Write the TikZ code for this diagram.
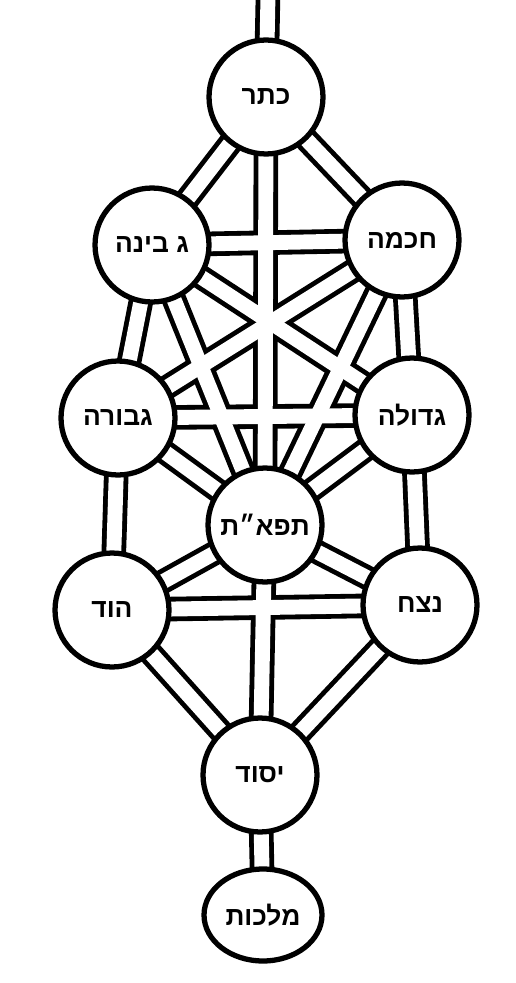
\documentclass[tikz,border=0pt]{standalone}
\usepackage{fontspec}
\newfontfamily\hebfont[Script=Hebrew]{Liberation Sans}
\TeXXeTstate=1
\usetikzlibrary{shapes.geometric,backgrounds}

\begin{document}
\begin{tikzpicture}[x=0.02cm,y=-0.02cm]
		\tikzstyle sefira=[circle,draw,line width=3pt,fill=white,minimum size=2.28cm,inner sep=0pt,font=\hebfont\bfseries\fontsize{15}{17}\selectfont];
		\tikzstyle outer_path=[line width=14pt,black];
		\tikzstyle inner_path=[line width=8.5pt,white];
		\useasboundingbox (0,0) rectangle (516,983);

		% SEFIROT
		\node[sefira] (keter) at (266,97) {\beginR כתר\endR};
		\node[sefira] (binah) at (152,245) {\beginR ג בינה\endR};
		\node[sefira] (chokhmah) at (402,240) {\beginR חכמה\endR};
		\node[sefira] (gevurah) at (118,418) {\beginR גבורה\endR};
		\node[sefira] (gedulah) at (412,415) {\beginR גדולה\endR};
		\node[sefira] (tiferet) at (265,525) {\beginR תפא״ת\endR};
		\node[sefira] (hod) at (112,610) {\beginR הוד\endR};
		\node[sefira] (netzach) at (420,605) {\beginR נצח\endR};
		\node[sefira] (yesod) at (260,775) {\beginR יסוד\endR};
		\node[sefira,ellipse,minimum width=2.36cm,minimum height=1.84cm] (malkhut) at (263,915) {\beginR מלכות\endR};
		\coordinate (stem) at (268,-5);

		%CHANNELS: black band first, white inside after
		\begin{pgfonlayer}{background}
			\foreach \style in {outer_path,inner_path}
				\foreach \a/\b in {keter/stem,keter/binah,keter/chokhmah,keter/tiferet,
						binah/chokhmah,binah/gevurah,chokhmah/gedulah,
						binah/tiferet,chokhmah/tiferet,binah/gedulah,chokhmah/gevurah,
						gevurah/gedulah,gevurah/tiferet,gedulah/tiferet,
						gevurah/hod,gedulah/netzach,tiferet/hod,tiferet/netzach,
						hod/netzach,tiferet/yesod,hod/yesod,netzach/yesod,yesod/malkhut}
					\draw[style=\style] (\a.center) -- (\b.center);
		\end{pgfonlayer}
\end{tikzpicture}
\end{document}
